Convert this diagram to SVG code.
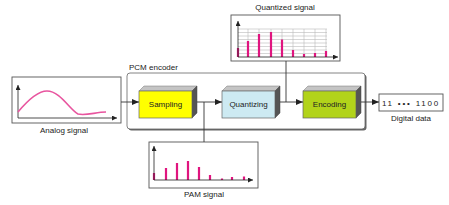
<svg xmlns="http://www.w3.org/2000/svg" width="449" height="205" viewBox="0 0 449 205">
<defs>
<style>
text{font-family:"Liberation Sans","DejaVu Sans",sans-serif;font-size:8px;fill:#222}
.panel{fill:#fff;stroke:#555;stroke-width:0.9}
.ax{stroke:#222;stroke-width:0.8;fill:none}
.bar{stroke:#e0157f;stroke-width:2.2}
.grid{stroke:#bbb;stroke-width:0.6}
.con{stroke:#333;stroke-width:0.9;fill:none}
.front{stroke:#666;stroke-width:0.7}
.top{fill:#c4c4c4;stroke:#777;stroke-width:0.5}
.side{fill:#555;stroke:#444;stroke-width:0.5}
</style>
<marker id="ah" markerWidth="8" markerHeight="6" refX="7" refY="3" orient="auto" markerUnits="userSpaceOnUse">
<path d="M0,0 L7,3 L0,6 Z" fill="#222"/>
</marker>
<marker id="axh" markerWidth="6" markerHeight="6" refX="5" refY="2.5" orient="auto" markerUnits="userSpaceOnUse">
<path d="M0,0 L5,2.5 L0,5 Z" fill="#222"/>
</marker>
</defs>
<rect width="449" height="205" fill="#fff"/>

<g id="pcm-encoder">
<rect x="128.5" y="74.5" width="238" height="56" rx="3" fill="#666"/>
<rect x="127" y="73" width="238" height="56" rx="3" fill="#fff" stroke="#666" stroke-width="0.8"/>
<text x="129" y="70">PCM encoder</text>
</g>

<g id="analog-signal">
<rect class="panel" x="12" y="77" width="109" height="46"/>
<path class="ax" d="M18,118 V85" marker-end="url(#axh)"/>
<path class="ax" d="M18,118 H117" marker-end="url(#axh)"/>
<path d="M18,112 C28,100 38,91 47,91 C60,91 70,110 78,114 C86,116 96,112 106,112" fill="none" stroke="#e8559f" stroke-width="1.6"/>
<text x="64" y="133" text-anchor="middle">Analog signal</text>
</g>

<g id="quantized-signal">
<rect class="panel" x="231" y="15" width="109" height="46"/>
<g class="grid">
<path d="M238,29 H327 M238,32.5 H327 M238,36 H327 M238,39.5 H327 M238,43 H327 M238,46.5 H327 M238,50 H327 M238,53.5 H327"/>
<path d="M248,29 V57 M259,29 V57 M271,29 V57 M282,29 V57 M293,29 V57 M304,29 V57 M315,29 V57 M326,29 V57"/>
</g>
<g class="bar">
<path d="M238,48 V57 M248,41 V57 M259,34 V57 M271,32 V57 M282,39.5 V57 M293,50 V57 M304,54 V57 M315,53 V57 M326,51 V57"/>
</g>
<path class="ax" d="M238,57 V21" marker-end="url(#axh)"/>
<path class="ax" d="M238,57 H338" marker-end="url(#axh)"/>
<text x="285" y="10" text-anchor="middle">Quantized signal</text>
</g>

<g id="pam-signal">
<rect class="panel" x="149" y="142" width="109" height="46"/>
<g class="bar">
<path d="M154,173 V180 M166,168 V180 M177,163 V180 M188,161 V180 M199,167 V180 M210,175 V180 M222,178.5 V180 M232,177 V180 M244,176.5 V180"/>
</g>
<path class="ax" d="M154,180 V146" marker-end="url(#axh)"/>
<path class="ax" d="M154,180 H253" marker-end="url(#axh)"/>
<text x="204" y="197" text-anchor="middle">PAM signal</text>
</g>

<g id="sampling">
<polygon class="top" points="139,91 144,86 197,86 192,91"/>
<polygon class="side" points="192,91 197,86 197,113 192,118"/>
<rect class="front" x="139" y="91" width="53" height="27" fill="#ffff00"/>
<text x="165.5" y="107" text-anchor="middle">Sampling</text>
</g>

<g id="quantizing">
<polygon class="top" points="222,91 227,86 280,86 275,91"/>
<polygon class="side" points="275,91 280,86 280,113 275,118"/>
<rect class="front" x="222" y="91" width="53" height="27" fill="#cdeaf2"/>
<text x="248.5" y="107" text-anchor="middle">Quantizing</text>
</g>

<g id="encoding">
<polygon class="top" points="303,91 308,86 361,86 356,91"/>
<polygon class="side" points="356,91 361,86 361,113 356,118"/>
<rect class="front" x="303" y="91" width="53" height="27" fill="#b2d31a"/>
<text x="329.5" y="107" text-anchor="middle">Encoding</text>
</g>

<g id="digital-data">
<rect class="panel" x="379" y="94" width="64" height="17"/>
<text x="411" y="105.5" text-anchor="middle" style="letter-spacing:1.8px">11 ••• 1100</text>
<text x="411" y="121" text-anchor="middle">Digital data</text>
</g>

<g id="connectors">
<path class="con" d="M121,102 H139" marker-end="url(#ah)"/>
<path class="con" d="M197,102 H222" marker-end="url(#ah)"/>
<path class="con" d="M204,102 V142"/>
<path class="con" d="M280,102 H303" marker-end="url(#ah)"/>
<path class="con" d="M286,102 V61"/>
<path class="con" d="M361,102 H379" marker-end="url(#ah)"/>
</g>
</svg>
